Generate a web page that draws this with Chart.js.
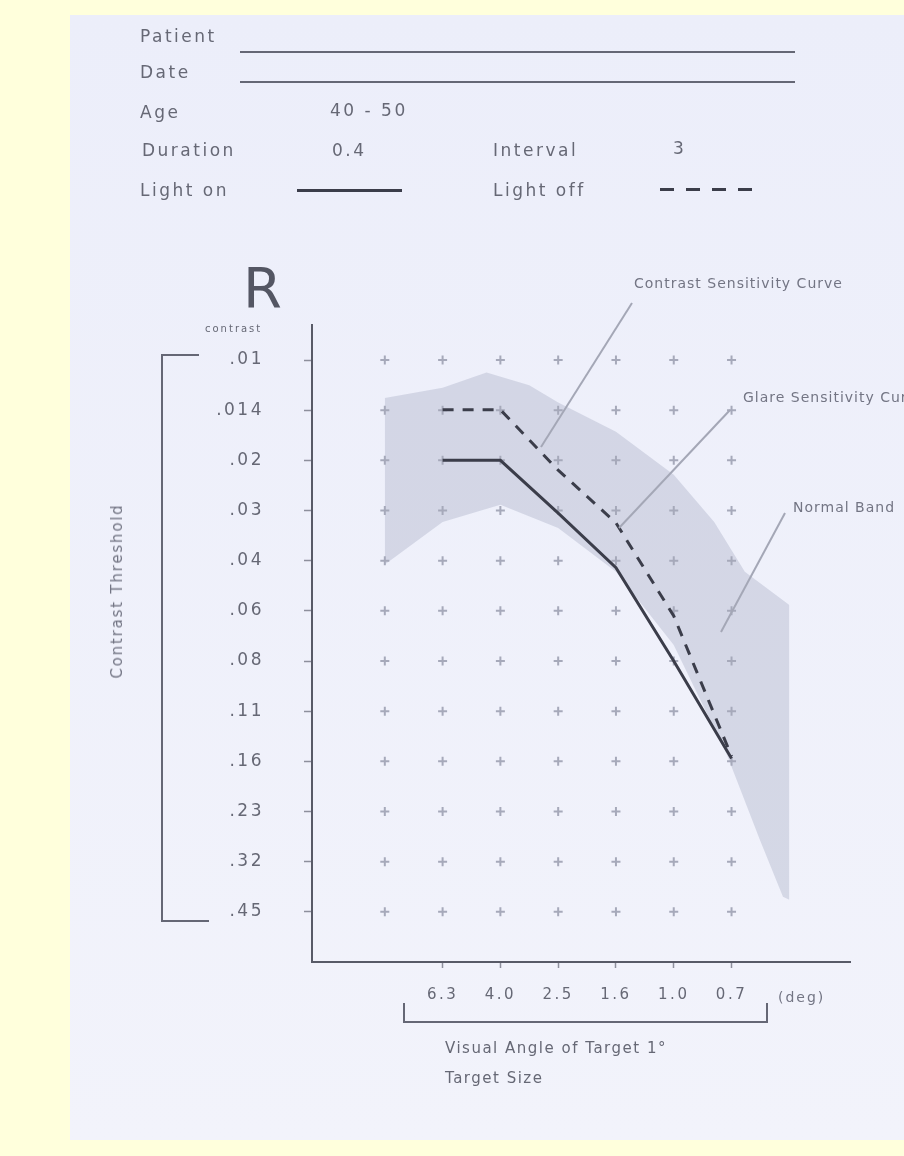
<!DOCTYPE html>
<html>
<head>
<meta charset="utf-8">
<script src="https://cdn.jsdelivr.net/npm/chart.js@4.4.0/dist/chart.umd.min.js"></script>
<style>
  html, body { margin: 0; padding: 0; }
  body {
    width: 904px; height: 1156px; position: relative; overflow: hidden;
    background: #ffffdc; font-family: "DejaVu Sans", sans-serif;
  }
  #paper {
    position: absolute; left: 70px; top: 15px; width: 834px; height: 1125px;
    background: linear-gradient(#eceefa, #f2f3fb);
  }
  #chart { position: absolute; left: 0; top: 0; }
  .t {
    position: absolute; color: #666875; font-size: 17px; letter-spacing: 2.5px;
    line-height: 20px; white-space: nowrap;
  }
  .s { font-size: 14px; letter-spacing: 1px; color: #737584; }
  .rule { position: absolute; background: #656775; }
</style>
</head>
<body>
<div id="paper"></div>
<canvas id="chart" width="904" height="1156"></canvas>

<!-- header -->
<div class="t" style="left:140px; top:26px;">Patient</div>
<div class="rule" style="left:240px; top:51px; width:555px; height:2px;"></div>
<div class="t" style="left:140px; top:62px;">Date</div>
<div class="rule" style="left:240px; top:81px; width:555px; height:2px;"></div>
<div class="t" style="left:140px; top:102px;">Age</div>
<div class="t" style="left:330px; top:100px;">40 - 50</div>
<div class="t" style="left:142px; top:140px;">Duration</div>
<div class="t" style="left:332px; top:140px;">0.4</div>
<div class="t" style="left:493px; top:140px;">Interval</div>
<div class="t" style="left:673px; top:138px;">3</div>
<div class="t" style="left:140px; top:180px;">Light on</div>
<div class="rule" style="left:297px; top:189px; width:105px; height:3px; background:#3b3d4a;"></div>
<div class="t" style="left:493px; top:180px;">Light off</div>
<div class="rule" style="left:660px; top:188px; width:93px; height:3px; background:repeating-linear-gradient(90deg, #3b3d4a 0 14px, transparent 14px 26px);"></div>

<!-- y side -->
<div class="t" style="left:243px; top:258px; font-size:56px; line-height:60px; letter-spacing:0; color:#545663;">R</div>
<div class="t" style="left:205px; top:323px; font-size:10px; line-height:12px; letter-spacing:2px;">contrast</div>
<div class="t s" style="left:117px; top:591px; transform:translate(-50%,-50%) rotate(-90deg); letter-spacing:1.8px; font-size:15px;">Contrast Threshold</div>
<div class="rule" style="left:161px; top:355px; width:2px; height:567px;"></div>
<div class="rule" style="left:161px; top:354px; width:38px; height:2px;"></div>
<div class="rule" style="left:161px; top:920px; width:48px; height:2px;"></div>

<!-- callouts -->
<div class="t s" style="left:634px; top:273px;">Contrast Sensitivity Curve</div>
<div class="t s" style="left:743px; top:387px;">Glare Sensitivity Curve</div>
<div class="t s" style="left:793px; top:497px;">Normal Band</div>

<!-- x side -->
<div class="rule" style="left:403px; top:1021px; width:365px; height:2px;"></div>
<div class="rule" style="left:403px; top:1003px; width:2px; height:20px;"></div>
<div class="rule" style="left:766px; top:1003px; width:2px; height:20px;"></div>
<div class="t s" style="left:778px; top:987px; letter-spacing:2px;">(deg)</div>
<div class="t" style="left:445px; top:1038px; font-size:15px; letter-spacing:1.5px;">Visual Angle of Target 1°</div>
<div class="t" style="left:445px; top:1068px; font-size:15px; letter-spacing:1.5px;">Target Size</div>

<script>
// ---------------------------------------
// DATA
// ---------------------------------------
const xLabels = ["6.3", "4.0", "2.5", "1.6", "1.0", "0.7"];   // visual angle, deg
const xCols = [1, 2, 3, 4, 5, 6];                              // column of each angle
const gridCols = [0, 1, 2, 3, 4, 5, 6];                        // columns of test marks

const yLabels = [".01", ".014", ".02", ".03", ".04", ".06", ".08", ".11", ".16", ".23", ".32", ".45"];
const yTicks = [0.01, 0.01414, 0.02, 0.02828, 0.04, 0.05657, 0.08, 0.1131, 0.16, 0.2263, 0.32, 0.4525];

const lightOn = [0.020, 0.020, 0.0288, 0.042, 0.080, 0.157];
const lightOff = [0.0141, 0.0141, 0.0214, 0.0308, 0.0586, 0.1545];

// normal band outline
const bandTopX = [0, 1, 1.76, 2.5, 3, 4, 5, 5.7, 6.23, 7];
const bandTopY = [0.0130, 0.0121, 0.0109, 0.0119, 0.0134, 0.0164, 0.0221, 0.0306, 0.0432, 0.0543];
const bandLowX = [0, 1, 2, 3, 4, 5, 5.92, 6.49, 6.89, 7];
const bandLowY = [0.0411, 0.0306, 0.0272, 0.0319, 0.0432, 0.0716, 0.153, 0.275, 0.408, 0.416];

// ---------------------------------------
// CHART
// ---------------------------------------
const ink = "#3b3d4a";
const label = "#666875";
const pts = (xs, ys) => xs.map((x, i) => ({ x, y: ys[i] }));

const gridPts = [];
gridCols.forEach(c => yTicks.forEach(v => gridPts.push({ x: c, y: v })));

// leader lines of the callouts (page pixels)
const leaders = [
  [632, 303, 541, 447],
  [730, 410, 619, 528],
  [785, 513, 721, 632]
];

const scanLook = {
  id: "scanLook",
  beforeDraw(chart) {
    chart.ctx.letterSpacing = "2.5px";
  },
  afterDatasetsDraw(chart) {
    const ctx = chart.ctx;
    ctx.save();
    ctx.strokeStyle = "#a4a7b6";
    ctx.lineWidth = 2;
    leaders.forEach(l => {
      ctx.beginPath();
      ctx.moveTo(l[0], l[1]);
      ctx.lineTo(l[2], l[3]);
      ctx.stroke();
    });
    ctx.restore();
  }
};

Chart.defaults.font.family = "'DejaVu Sans', sans-serif";

new Chart(document.getElementById("chart"), {
  type: "line",
  data: {
    datasets: [
      {
        label: "Light on",
        data: pts(xCols, lightOn),
        borderColor: ink,
        borderWidth: 3,
        pointRadius: 0,
        fill: false,
        order: 0
      },
      {
        label: "Light off",
        data: pts(xCols, lightOff),
        borderColor: ink,
        borderWidth: 3,
        borderDash: [11, 9],
        pointRadius: 0,
        fill: false,
        order: 0
      },
      {
        type: "scatter",
        label: "marks",
        data: gridPts,
        pointStyle: "cross",
        pointRadius: 4.5,
        borderColor: "#a6a9ba",
        borderWidth: 2,
        order: 1
      },
      {
        label: "Normal Band",
        data: pts(bandTopX, bandTopY),
        borderWidth: 0,
        pointRadius: 0,
        backgroundColor: "rgba(150,155,182,0.3)",
        fill: "+1",
        order: 2
      },
      {
        label: "band low",
        data: pts(bandLowX, bandLowY),
        borderWidth: 0,
        pointRadius: 0,
        fill: false,
        order: 3
      }
    ]
  },
  options: {
    responsive: false,
    animation: false,
    events: [],
    layout: { padding: { left: 200, right: 54, top: 325, bottom: 134 } },
    plugins: {
      legend: { display: false },
      tooltip: { enabled: false }
    },
    scales: {
      x: {
        type: "linear",
        min: -1.26,
        max: 8.05,
        afterBuildTicks: s => { s.ticks = xCols.map(v => ({ value: v })); },
        afterFit: s => { s.height = 60; },
        ticks: {
          callback: v => xLabels[xCols.indexOf(v)],
          color: label,
          font: { size: 15 },
          padding: 18,
          maxRotation: 0
        },
        grid: { drawOnChartArea: false, tickLength: 6, color: "#8d8f9c", tickWidth: 1.5 },
        border: { color: "#585a67", width: 2 }
      },
      y: {
        type: "logarithmic",
        reverse: true,
        min: 0.00785,
        max: 0.64,
        afterBuildTicks: s => { s.ticks = yTicks.map(v => ({ value: v })); },
        afterFit: s => { s.width = 112; },
        ticks: {
          callback: (v, i) => yLabels[i],
          color: label,
          font: { size: 17 },
          padding: 40
        },
        grid: { drawOnChartArea: false, tickLength: 8, color: "#8d8f9c", tickWidth: 1.5 },
        border: { color: "#585a67", width: 2 }
      }
    }
  },
  plugins: [scanLook]
});
</script>
</body>
</html>
